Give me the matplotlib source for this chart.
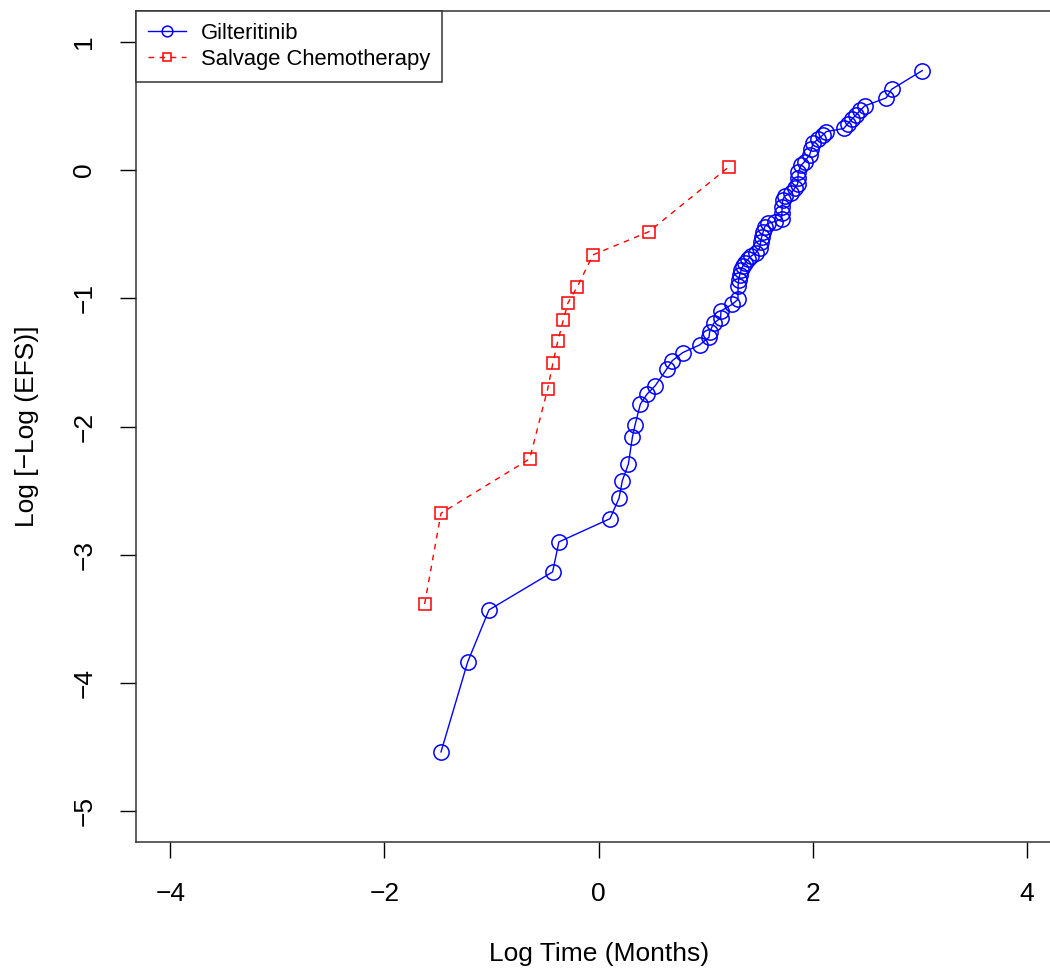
import matplotlib
matplotlib.use("Agg")
import matplotlib.pyplot as plt

plt.rcParams['font.family'] = ['Liberation Sans', 'DejaVu Sans']

# log time (months) and log(-log(EFS)) for each arm
gilt_x = [-1.472, -1.223, -1.024, -0.430, -0.371, 0.106, 0.190, 0.221, 0.277, 0.315,
          0.339, 0.389, 0.451, 0.529, 0.638, 0.688, 0.784, 0.943, 1.030, 1.036,
          1.074, 1.139, 1.142, 1.248, 1.301, 1.302, 1.307, 1.317, 1.332, 1.347,
          1.370, 1.394, 1.426, 1.466, 1.503, 1.513, 1.522, 1.536, 1.550, 1.578,
          1.643, 1.709, 1.711, 1.713, 1.718, 1.737, 1.799, 1.830, 1.858, 1.861,
          1.863, 1.893, 1.923, 1.970, 1.986, 2.001, 2.048, 2.094, 2.126, 2.288,
          2.325, 2.362, 2.404, 2.442, 2.484, 2.684, 2.736, 3.021]
gilt_y = [-4.536, -3.835, -3.429, -3.133, -2.899, -2.718, -2.559, -2.422, -2.294, -2.083,
          -1.990, -1.826, -1.748, -1.681, -1.549, -1.486, -1.424, -1.364, -1.304, -1.263,
          -1.195, -1.154, -1.099, -1.047, -1.008, -0.904, -0.857, -0.818, -0.779, -0.748,
          -0.722, -0.696, -0.670, -0.647, -0.608, -0.561, -0.522, -0.483, -0.444, -0.417,
          -0.403, -0.382, -0.335, -0.288, -0.234, -0.203, -0.179, -0.143, -0.109, -0.065,
          -0.016, 0.039, 0.065, 0.117, 0.161, 0.208, 0.239, 0.273, 0.299, 0.323,
          0.359, 0.394, 0.429, 0.464, 0.499, 0.561, 0.629, 0.774]

chemo_x = [-1.625, -1.472, -0.644, -0.476, -0.427, -0.380, -0.330, -0.287, -0.199, -0.053, 0.470, 1.214]
chemo_y = [-3.383, -2.676, -2.252, -1.707, -1.504, -1.330, -1.171, -1.037, -0.910, -0.662, -0.481, 0.023]

xticks = [-4, -2, 0, 2, 4]
yticks = [-5, -4, -3, -2, -1, 0, 1]

fig = plt.figure(figsize=(10.5, 9.68), dpi=100)
ax = fig.add_axes([0.1295, 0.1299, 0.8813, 0.8589])

ax.plot(gilt_x, gilt_y, color='#0000FF', lw=1.0, marker='o', markersize=11,
        markerfacecolor='none', markeredgewidth=1.1, label='Gilteritinib')
ax.plot(chemo_x, chemo_y, color='#FF0000', lw=1.0, ls=(0, (4, 4)), marker='s', markersize=8.5,
        markerfacecolor='none', markeredgewidth=1.1, label='Salvage Chemotherapy')

ax.set_xlim(-4.32, 4.32)
ax.set_ylim(-5.24, 1.24)
ax.set_xticks(xticks)
ax.set_yticks(yticks)
ax.tick_params(axis='both', direction='out', length=11.5, width=1.0, labelsize=19, pad=17)
for lab in ax.get_yticklabels():
    lab.set_rotation(90)
    lab.set_va('center')

for sp in ax.spines.values():
    sp.set_linewidth(1.1)
    sp.set_color('#333333')

ax.set_xlabel('Log Time (Months)', fontsize=19, labelpad=26)
ax.set_ylabel('Log [\u2212Log (EFS)]', fontsize=19, labelpad=24)

leg = ax.legend(loc='upper left', fontsize=15.8, borderaxespad=0, fancybox=False,
                edgecolor='#333333', framealpha=1, handlelength=1.73, handletextpad=0.68,
                borderpad=0.55, labelspacing=0.21, markerscale=0.7)
leg.get_frame().set_linewidth(1.1)

fig.savefig('out.png', dpi=100)
